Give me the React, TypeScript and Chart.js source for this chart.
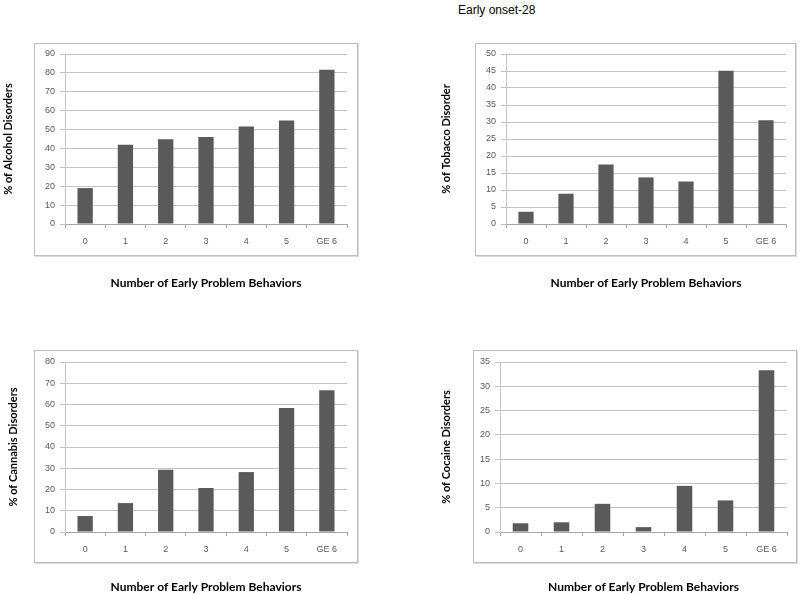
import React, { useEffect, useRef } from "react";
import { Chart, registerables } from "chart.js";

Chart.register(...registerables);

const pageTitle = "Early onset-28";
const categories = ["0", "1", "2", "3", "4", "5", "GE 6"];
const alcoholValues = [19.0, 41.9, 44.9, 46.1, 51.6, 54.8, 81.6];
const tobaccoValues = [3.6, 8.9, 17.5, 13.7, 12.5, 45.1, 30.5];
const cannabisValues = [7.5, 13.6, 29.3, 20.7, 28.2, 58.3, 66.7];
const cocaineValues = [1.8, 2.0, 5.8, 1.0, 9.5, 6.5, 33.3];
const xAxisTitle = "Number of Early Problem Behaviors";
const alcoholTitle = "% of Alcohol Disorders";
const tobaccoTitle = "% of Tobacco Disorder";
const cannabisTitle = "% of Cannabis Disorders";
const cocaineTitle = "% of Cocaine Disorders";
const alcoholMax = 90;
const tobaccoMax = 50;
const cannabisMax = 80;
const cocaineMax = 35;
const alcoholStep = 10;
const tobaccoStep = 5;
const cannabisStep = 10;
const cocaineStep = 5;

type PanelProps = {
  values: number[];
  yTitle: string;
  yMax: number;
  yStep: number;
  plotLeft: number;
  plotRight: number;
  plotTop: number;
  plotBottom: number;
  yTitleX: number;
  xTitleY: number;
  box: [number, number, number, number];
};

function Panel(p: PanelProps) {
  const ref = useRef<HTMLCanvasElement | null>(null);
  const canvasLeft = p.yTitleX - 9;
  const canvasTop = p.plotTop - 24;
  const padRight = 16;
  const padBottom = 8;
  const canvasRight = p.plotRight + padRight;
  const canvasBottom = p.xTitleY + 17;
  const w = canvasRight - canvasLeft;
  const h = canvasBottom - canvasTop;
  const yAxisWidth = p.plotLeft - canvasLeft;
  const xAxisHeight = canvasBottom - padBottom - p.plotBottom;

  useEffect(() => {
    if (!ref.current) return;
    const chart = new Chart(ref.current, {
      type: "bar",
      data: {
        labels: categories,
        datasets: [
          {
            data: p.values,
            backgroundColor: "#5a5a5a",
            borderWidth: 0,
            barPercentage: 0.38,
            categoryPercentage: 1,
          },
        ],
      },
      options: {
        animation: false,
        responsive: false,
        maintainAspectRatio: false,
        layout: { padding: { top: 24, left: 0, right: padRight, bottom: padBottom } },
        plugins: { legend: { display: false }, tooltip: { enabled: false }, title: { display: false } },
        scales: {
          x: {
            afterFit: (s: any) => {
              s.height = xAxisHeight;
            },
            grid: {
              offset: true,
              drawOnChartArea: false,
              drawTicks: true,
              tickLength: 4,
              color: "#a6a6a6",
            },
            border: { display: true, color: "#a6a6a6" },
            ticks: {
              color: "#595959",
              padding: 8,
              font: { family: "'Liberation Sans', Arial, sans-serif", size: 9 },
            },
            title: {
              display: true,
              text: xAxisTitle,
              color: "#000000",
              padding: { top: 2, bottom: 0 },
              font: { family: "Lato, 'Open Sans', sans-serif", size: 12, weight: "bold" },
            },
          },
          y: {
            min: 0,
            max: p.yMax,
            afterFit: (s: any) => {
              s.width = yAxisWidth;
            },
            grid: {
              color: "#c4c4c4",
              drawTicks: true,
              tickLength: 5,
            },
            border: { display: true, color: "#c4c4c4" },
            ticks: {
              stepSize: p.yStep,
              color: "#595959",
              padding: 5,
              font: { family: "'Liberation Sans', Arial, sans-serif", size: 9 },
            },
            title: {
              display: true,
              text: p.yTitle,
              color: "#000000",
              padding: { top: 2, bottom: 0 },
              font: { family: "Lato, 'Open Sans', sans-serif", size: 11, weight: "bold" },
            },
          },
        },
      } as any,
    });
    return () => chart.destroy();
  }, []);

  const [bx1, by1, bx2, by2] = p.box;
  return (
    <>
      <div
        style={{
          position: "absolute",
          left: bx1,
          top: by1,
          width: bx2 - bx1,
          height: by2 - by1,
          border: "1px solid #bdbdbd",
          boxShadow: "1px 1px 0 #dcdcdc",
          boxSizing: "border-box",
          background: "#ffffff",
        }}
      />
      <canvas
        ref={ref}
        width={w}
        height={h}
        style={{ position: "absolute", left: canvasLeft, top: canvasTop, width: w, height: h }}
      />
    </>
  );
}

export default function App() {
  useEffect(() => {
    document.body.style.margin = "0";
  }, []);
  return (
    <div
      style={{
        position: "absolute",
        left: 0,
        top: 0,
        width: 800,
        height: 594,
        background: "#ffffff",
        overflow: "hidden",
      }}
    >
      <div
        style={{
          position: "absolute",
          left: 458,
          top: 3,
          fontFamily: "'Liberation Sans', Arial, sans-serif",
          fontSize: 12,
          color: "#000",
          whiteSpace: "nowrap",
        }}
      >
        {pageTitle}
      </div>
      <Panel
        values={alcoholValues}
        yTitle={alcoholTitle}
        yMax={alcoholMax}
        yStep={alcoholStep}
        plotLeft={65}
        plotRight={347}
        plotTop={54}
        plotBottom={224}
        yTitleX={9}
        xTitleY={281}
        box={[34, 43, 358, 256]}
      />
      <Panel
        values={tobaccoValues}
        yTitle={tobaccoTitle}
        yMax={tobaccoMax}
        yStep={tobaccoStep}
        plotLeft={506}
        plotRight={786}
        plotTop={54}
        plotBottom={224}
        yTitleX={447}
        xTitleY={281}
        box={[475, 43, 796, 256]}
      />
      <Panel
        values={cannabisValues}
        yTitle={cannabisTitle}
        yMax={cannabisMax}
        yStep={cannabisStep}
        plotLeft={65}
        plotRight={347}
        plotTop={362}
        plotBottom={532}
        yTitleX={14}
        xTitleY={585}
        box={[34, 350, 358, 563]}
      />
      <Panel
        values={cocaineValues}
        yTitle={cocaineTitle}
        yMax={cocaineMax}
        yStep={cocaineStep}
        plotLeft={500}
        plotRight={787}
        plotTop={362}
        plotBottom={532}
        yTitleX={447}
        xTitleY={585}
        box={[473, 350, 797, 563]}
      />
    </div>
  );
}
